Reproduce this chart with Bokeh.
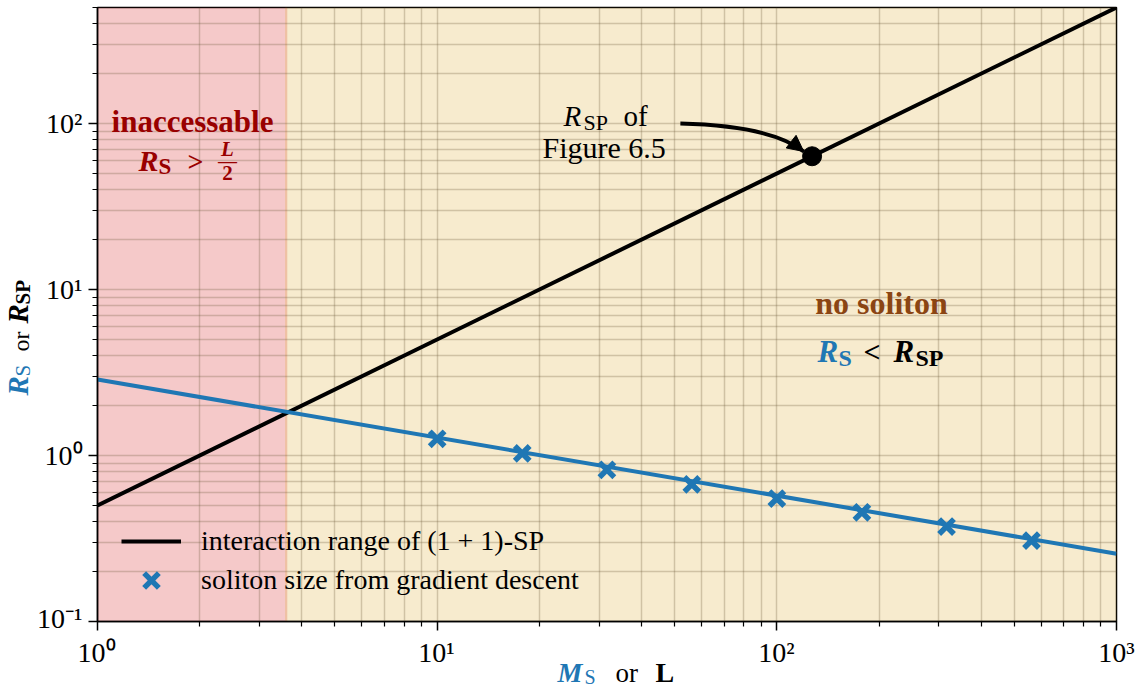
import numpy as np
from bokeh.plotting import figure
from bokeh.layouts import row, column
from bokeh.models import (Label, LabelSet, BoxAnnotation, Legend, LegendItem, FixedTicker,
                          Arrow, NormalHead, Range1d, ColumnDataSource)
from bokeh.embed import file_html
from bokeh.resources import INLINE

# ---------------- data ----------------
L_line = [1.0, 1000.0]                # L values of the interaction-range line
R_sp_line = [0.5, 500.0]              # R_SP = L/2
M_fit = [1.0, 1000.0]                 # M_S values of the fitted soliton size
R_s_fit = [2.87, 0.256]
M_s = [10.0, 17.8, 31.6, 56.2, 100.0, 178.0, 316.0, 562.0]
R_s = [1.26, 1.03, 0.82, 0.67, 0.55, 0.455, 0.373, 0.307]
L_boundary = 3.62                     # where R_S = L/2
fig65_L = [127.0]
fig65_R = [63.5]
x_ticks = [1, 10, 100, 1000]
x_tick_labels = ["10⁰", "10¹", "10²", "10³"]
y_ticks = [0.1, 1, 10, 100]
y_tick_labels = ["10⁻¹", "10⁰", "10¹", "10²"]

FONT = "Liberation Serif"
BLUE = "#1f77b4"
DARKRED = "#990000"
BROWN = "#8b4513"

PAGE_W, PAGE_H = 1146, 688
YL_W = 34                      # width of the y-label strip
FL, FR, FT, FB = 96, 1116, 7, 621   # main frame edges in page px
P_W = PAGE_W - YL_W
P_H = FB + 12
XL_H = PAGE_H - P_H            # strip below the plot: tick labels + x label

p = figure(width=P_W, height=P_H, x_axis_type="log", y_axis_type="log",
           x_range=Range1d(1, 1000), y_range=Range1d(0.1, 500),
           output_backend="svg", toolbar_location=None,
           min_border_left=FL - YL_W, min_border_right=PAGE_W - FR, min_border_top=FT,
           min_border_bottom=P_H - FB)
p.background_fill_color = "white"
p.border_fill_color = "white"
p.outline_line_color = "black"
p.outline_line_width = 1.5

def minor_for(ticks):
    out = []
    for t in ticks:
        out += [t * k for k in range(2, 10)]
    return out

p.xaxis.ticker = FixedTicker(ticks=x_ticks, minor_ticks=minor_for(x_ticks))
p.yaxis.ticker = FixedTicker(ticks=y_ticks, minor_ticks=minor_for(y_ticks + [1000]))
p.yaxis.major_label_overrides = {float(t): s for t, s in zip(y_ticks, y_tick_labels)}
# x tick labels are drawn in the strip below (together with the x-axis title)
p.xaxis.major_label_overrides = {float(t): "" for t in x_ticks}
p.xaxis.major_label_text_font_size = "0px"
p.xaxis.major_label_standoff = 0

for ax in (p.xaxis, p.yaxis):
    ax.axis_line_width = 1.5
    ax.major_tick_line_width = 1.5
    ax.minor_tick_line_width = 1.2
    ax.major_tick_out = 9
    ax.major_tick_in = 0
    ax.minor_tick_out = 5
    ax.minor_tick_in = 0
    ax.major_label_text_font = FONT
    ax.major_label_text_color = "black"
p.yaxis.major_label_text_font_size = "28px"
p.yaxis.major_label_standoff = 6

for g in (p.xgrid, p.ygrid):
    g.grid_line_color = "#6b5a3a"
    g.grid_line_alpha = 0.28
    g.grid_line_width = 1.5
    g.minor_grid_line_color = "#6b5a3a"
    g.minor_grid_line_alpha = 0.28
    g.minor_grid_line_width = 1.5

# background regions
p.add_layout(BoxAnnotation(right=L_boundary, fill_color="#d62728", fill_alpha=0.25,
                           line_alpha=0, level="image"))
p.add_layout(BoxAnnotation(left=L_boundary * 0.985, fill_color="#daa520", fill_alpha=0.22,
                           line_alpha=0, level="image"))

# data
line_r = p.line(L_line, R_sp_line, line_color="black", line_width=4)
p.line(M_fit, R_s_fit, line_color=BLUE, line_width=4)
sc_r = p.scatter(M_s, R_s, marker="x", size=21, line_width=5.5, line_color=BLUE)
p.scatter(fig65_L, fig65_R, marker="circle", size=19, fill_color="black", line_color="black")

# curved arrow pointing to the Figure 6.5 point
tip = (fig65_L[0] * 0.945, fig65_R[0] * 1.068)
start = (52.0, 100.0)
ctrl = (96.0, 97.0)
p.quadratic(x0=[start[0]], y0=[start[1]], x1=[tip[0]], y1=[tip[1]],
            cx=[ctrl[0]], cy=[ctrl[1]], line_color="black", line_width=4)
lt, lc = np.log10(tip), np.log10(ctrl)
back = 10 ** (lt + 0.25 * (lc - lt))
p.add_layout(Arrow(end=NormalHead(size=16, fill_color="black", line_color="black"),
                   x_start=back[0], y_start=back[1], x_end=tip[0], y_end=tip[1],
                   line_color="black", line_width=4))

# legend (one per entry so that each row can be placed independently)
common = dict(background_fill_alpha=0, border_line_alpha=0, label_text_font=FONT,
              label_text_font_size="28px", label_text_color="black", glyph_width=60,
              padding=0, margin=0, label_standoff=20)
p.add_layout(Legend(items=[LegendItem(label="interaction range of (1 + 1)-SP", renderers=[line_r])],
                    location=(24, 64), glyph_height=32, label_height=32, **common))
p.add_layout(Legend(items=[LegendItem(label="soliton size from gradient descent", renderers=[sc_r])],
                    location=(24, 15), glyph_height=52, label_height=52, **common))


def put(fig, ox, oy, xc, yc, text, size, color="black", style="normal", angle=0.0, align="left"):
    """place text with its baseline at page pixel (xc, yc); (ox, oy) = page px of the frame's
    bottom-left.  A small empirical shift compensates the renderer's baseline offset."""
    shift = 0.33 * size
    if angle:
        xc = xc - shift
    else:
        yc = yc - shift
    fig.add_layout(Label(x=xc - ox, y=oy - yc, x_units="screen", y_units="screen",
                         text=text, text_font=FONT, text_font_size=f"{size}px",
                         text_font_style=style, text_color=color, angle=angle,
                         text_align=align, text_baseline="alphabetic"))

def pm(*a, **k):
    put(p, FL, FB, *a, **k)

# inaccessible region text
pm(191, 131, "inaccessable", 31, DARKRED, "bold", align="center")
pm(137, 170, "R", 30, DARKRED, "bold italic")
pm(157, 174, "S", 23, DARKRED, "bold")
pm(186, 170, ">", 28, DARKRED, "bold")
pm(226, 155, "L", 21, DARKRED, "bold italic", align="center")
pm(226, 166, "—", 19, DARKRED, "bold", align="center")
pm(226, 179, "2", 21, DARKRED, "bold", align="center")

# Figure 6.5 annotation
pm(562, 125, "R", 29, "black", "italic")
pm(582, 129, "SP", 22)
pm(622, 125, "of", 29)
pm(541, 157, "Figure 6.5", 30)

# no soliton text
pm(880, 313, "no soliton", 32, BROWN, "bold", align="center")
pm(816, 361, "R", 31, BLUE, "bold italic")
pm(837, 365, "S", 24, BLUE, "bold")
pm(862, 361, "<", 30, "black", "bold")
pm(892, 361, "R", 31, "black", "bold italic")
pm(914, 365, "SP", 24, "black", "bold")

# ---- strip below: x tick labels + x-axis title ----
# its own log range is chosen so that it lines up with the main frame (340 px per decade)
dec_px = (FR - FL) / 3.0
xs_range = Range1d(10 ** (-(FL - YL_W) / dec_px), 10 ** (3 + (PAGE_W - FR) / dec_px))
xfig = figure(width=P_W, height=XL_H, x_axis_type="log", x_range=xs_range,
              y_range=Range1d(0, 1), x_axis_location=None, y_axis_location=None,
              min_border=0, output_backend="svg", toolbar_location=None,
              outline_line_color=None)
xfig.frame_align = False
xfig.grid.visible = False
tick_baseline = 661
xfig.add_layout(LabelSet(x="x", y=PAGE_H - tick_baseline, y_units="screen",
                         text="text", text_font=FONT, text_font_size="28px",
                         text_color="black", text_align="center", text_baseline="alphabetic",
                         source=ColumnDataSource(dict(x=x_ticks, text=x_tick_labels))))
def px(*a, **k):
    put(xfig, YL_W, PAGE_H, *a, **k)
px(557, 681, "M", 28, BLUE, "bold italic")
px(584, 683, "S", 20, BLUE)
px(615, 681, "or", 27)
px(655, 681, "L", 28, "black", "bold")

# ---- y-axis label strip ----
yfig = figure(width=YL_W, height=PAGE_H, x_axis_location=None, y_axis_location=None,
              x_range=Range1d(0, 1), y_range=Range1d(0, 1), min_border=0,
              output_backend="svg", toolbar_location=None, outline_line_color=None)
yfig.frame_align = False
yfig.grid.visible = False
def py(*a, **k):
    put(yfig, 0, PAGE_H, *a, **k)
A = np.pi / 2
py(27, 395, "R", 29, BLUE, "bold italic", angle=A)
py(29, 376, "S", 21, BLUE, angle=A)
py(28, 351, "or", 24, angle=A)
py(27, 323, "R", 29, "black", "bold italic", angle=A)
py(29, 304, "SP", 21, "black", "bold", angle=A)

layout = row(yfig, column(p, xfig))
open("out.html", "w").write(file_html(layout, INLINE))
